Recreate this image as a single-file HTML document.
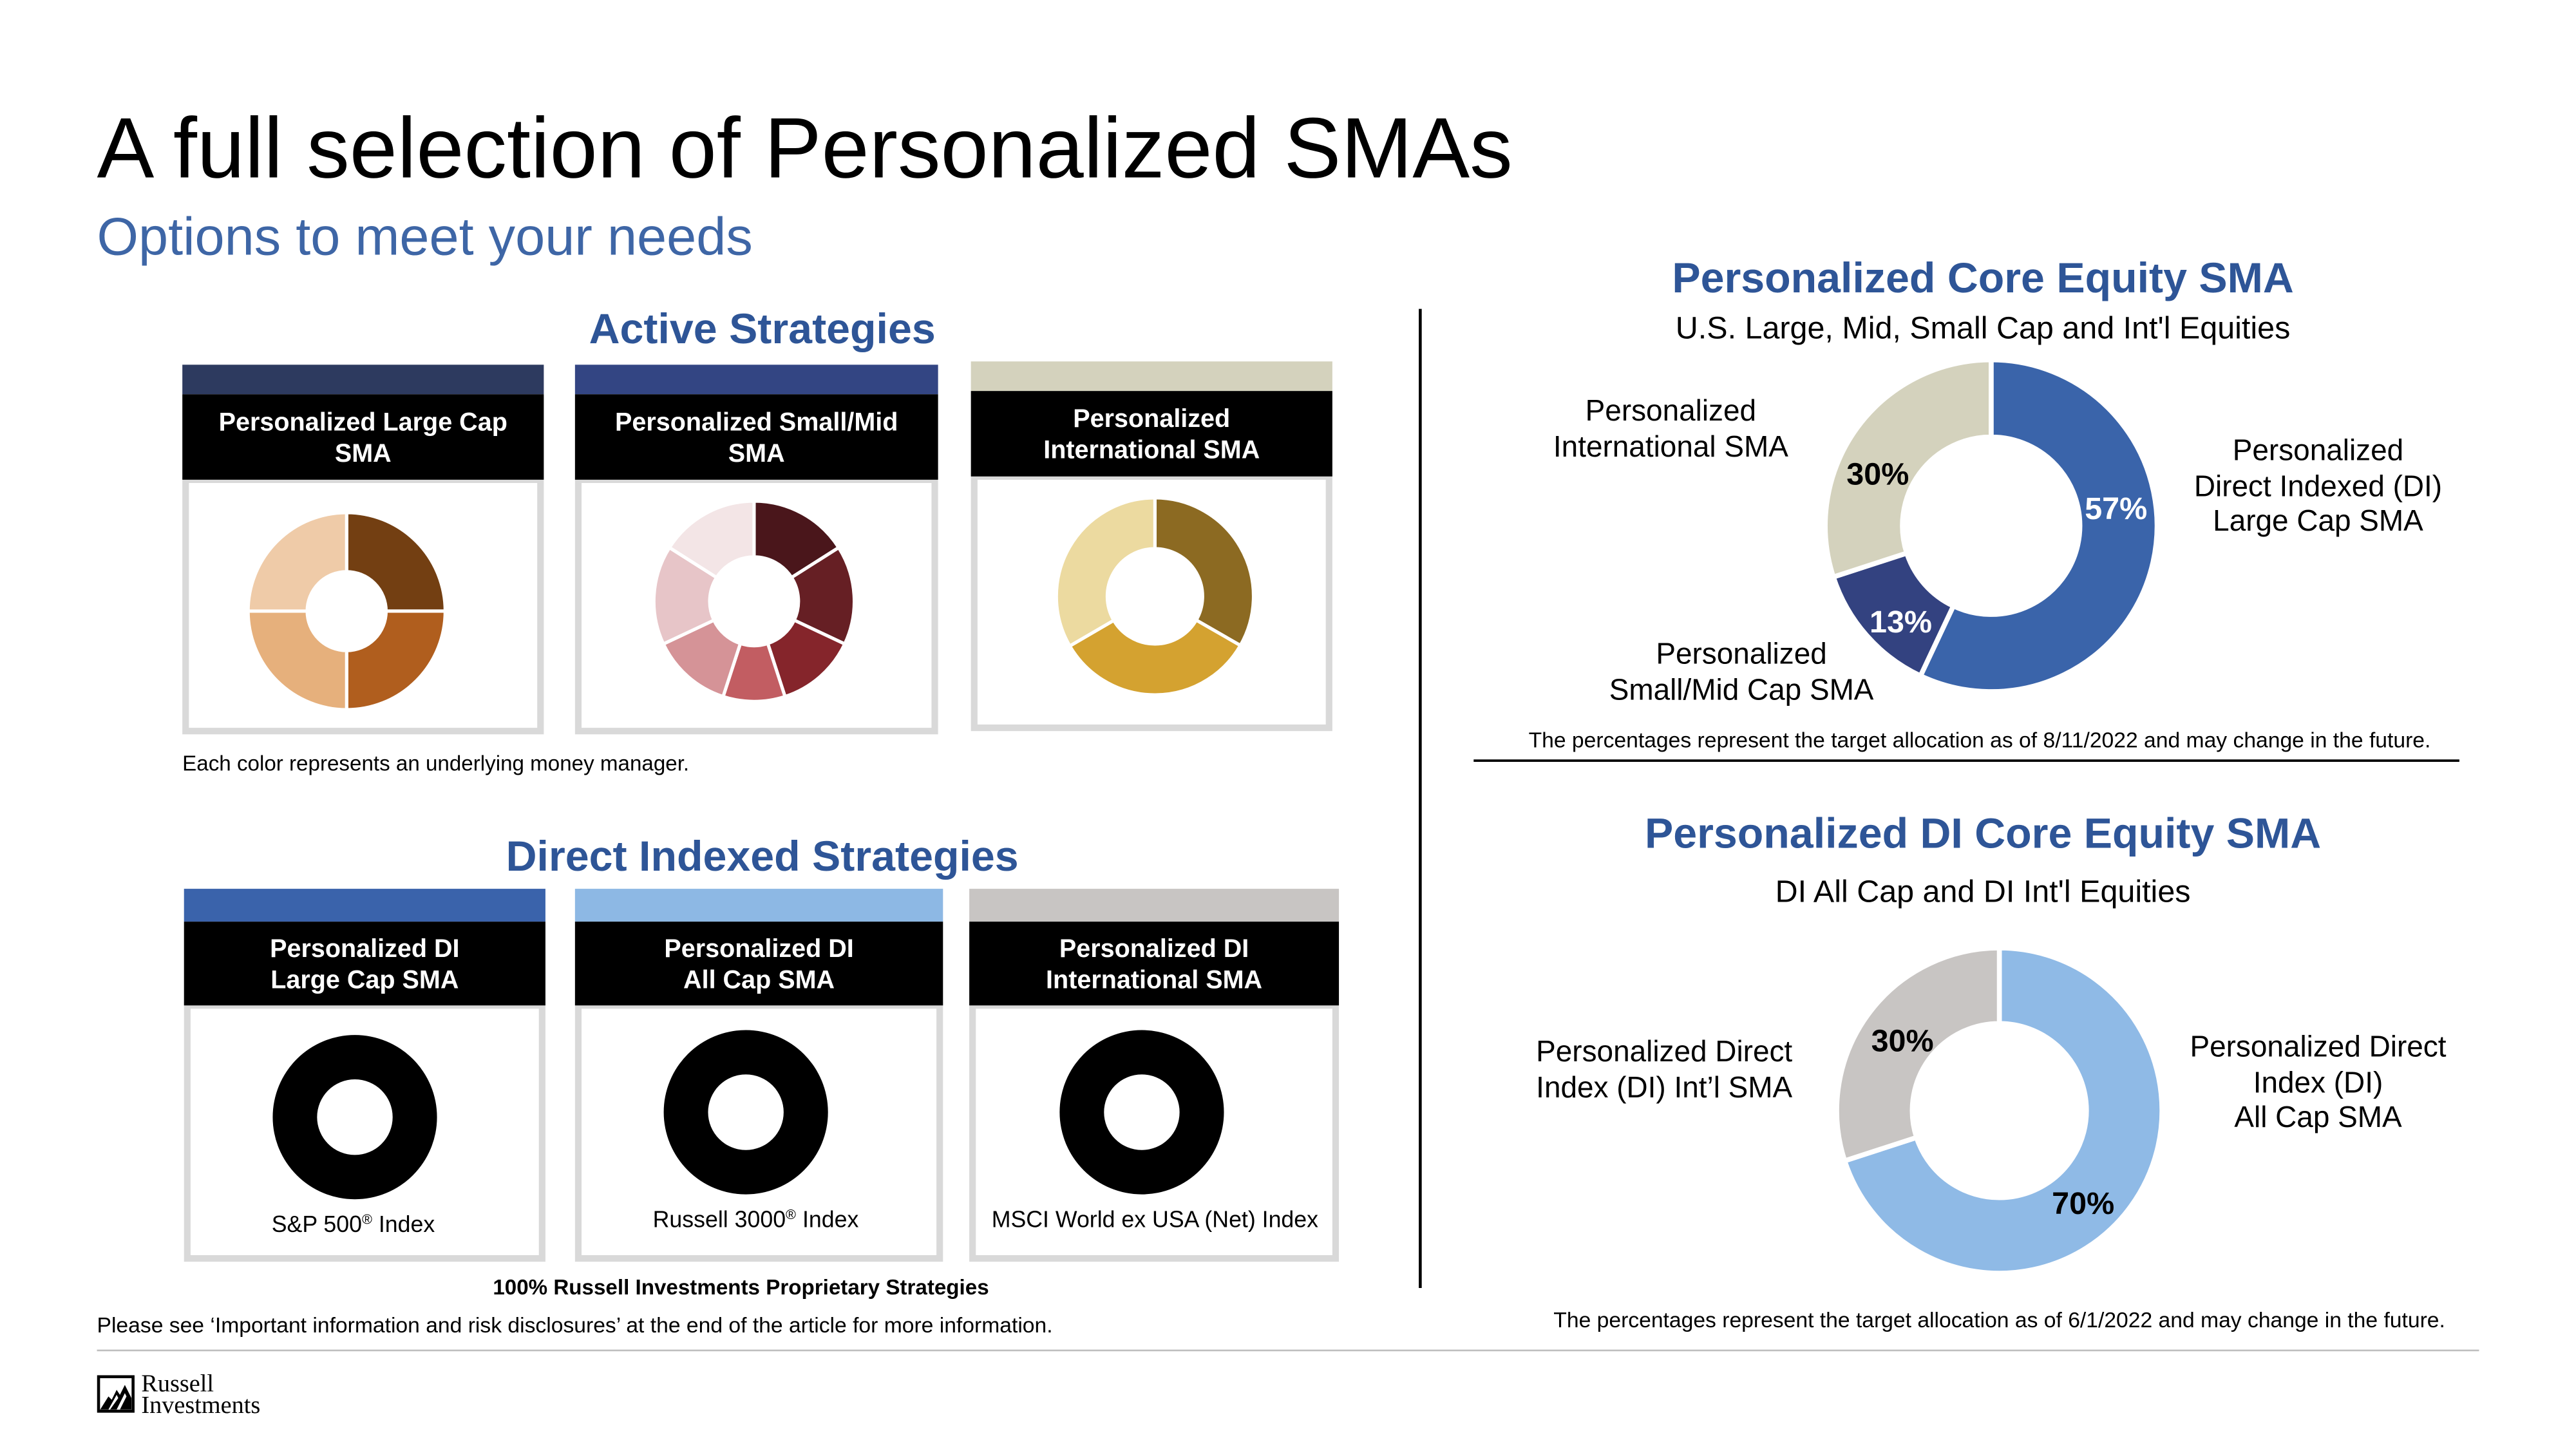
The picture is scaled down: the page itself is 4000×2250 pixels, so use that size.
<!DOCTYPE html>
<html><head><meta charset="utf-8">
<style>
html,body{margin:0;padding:0;background:#fff;}
svg{display:block;font-family:"Liberation Sans",Arial,sans-serif;}
</style></head>
<body>
<svg id="page" width="4000" height="2250" viewBox="0 0 1568 882" xmlns="http://www.w3.org/2000/svg">
<rect width="1568" height="882" fill="#fff"/>
<text x="59" y="108" font-size="52.2" fill="#000">A full selection of Personalized SMAs</text>
<text x="59" y="155" font-size="32.5" fill="#3e66a6">Options to meet your needs</text>

<text x="464" y="209" font-size="26" font-weight="bold" fill="#2e5597" text-anchor="middle">Active Strategies</text>
<g id="activeCards"></g>
<text x="111" y="469" font-size="13" fill="#000">Each color represents an underlying money manager.</text>

<text x="464" y="530" font-size="26" font-weight="bold" fill="#2e5597" text-anchor="middle">Direct Indexed Strategies</text>
<g id="diCards"></g>
<text x="451" y="788" font-size="13" font-weight="bold" fill="#000" text-anchor="middle">100% Russell Investments Proprietary Strategies</text>
<text x="59" y="811" font-size="13.2" fill="#000">Please see ‘Important information and risk disclosures’ at the end of the article for more information.</text>
<line x1="59" y1="822" x2="1509" y2="822" stroke="#bfbfbf" stroke-width="1"/>

<g>
<rect x="60" y="838" width="21" height="21" fill="none" stroke="#000" stroke-width="1.8"/>
<polygon points="61,858 66,850 68,852 71,846 73,849 76,843 80,851 80,858" fill="#000"/>
<polygon points="66,858 71,849 72,851 67,858" fill="#fff"/>
<polygon points="71,858 76,848 77,850 73,858" fill="#fff"/>
<text x="86" y="847" font-family="Liberation Serif,serif" font-size="15" fill="#000">Russell</text>
<text x="86" y="860" font-family="Liberation Serif,serif" font-size="15" fill="#000">Investments</text>
</g>

<line x1="864.5" y1="188" x2="864.5" y2="784" stroke="#000" stroke-width="1.8"/>

<text x="1207" y="178" font-size="26" font-weight="bold" fill="#2e5597" text-anchor="middle">Personalized Core Equity SMA</text>
<text x="1207" y="206" font-size="19" fill="#000" text-anchor="middle">U.S. Large, Mid, Small Cap and Int'l Equities</text>
<g id="coreDonut"></g>
<g font-size="18" fill="#000" text-anchor="middle">
<text x="1017" y="256">Personalized</text>
<text x="1017" y="278">International SMA</text>
<text x="1411" y="280">Personalized</text>
<text x="1411" y="302">Direct Indexed (DI)</text>
<text x="1411" y="323">Large Cap SMA</text>
<text x="1060" y="404">Personalized</text>
<text x="1060" y="426">Small/Mid Cap SMA</text>
</g>
<text x="1205" y="455" font-size="13.2" fill="#000" text-anchor="middle">The percentages represent the target allocation as of 8/11/2022 and may change in the future.</text>
<line x1="897" y1="463" x2="1497" y2="463" stroke="#000" stroke-width="1.5"/>

<text x="1207" y="516" font-size="26" font-weight="bold" fill="#2e5597" text-anchor="middle">Personalized DI Core Equity SMA</text>
<text x="1207" y="549" font-size="19" fill="#000" text-anchor="middle">DI All Cap and DI Int'l Equities</text>
<g id="diDonut"></g>
<g font-size="18" fill="#000" text-anchor="middle">
<text x="1013" y="646">Personalized Direct</text>
<text x="1013" y="668">Index (DI) Int’l SMA</text>
<text x="1411" y="643">Personalized Direct</text>
<text x="1411" y="665">Index (DI)</text>
<text x="1411" y="686">All Cap SMA</text>
</g>
<text x="1217" y="808" font-size="13.2" fill="#000" text-anchor="middle">The percentages represent the target allocation as of 6/1/2022 and may change in the future.</text>
</svg>
<script>
// ---- data ----
const coreCategories = ["Personalized DI Large Cap SMA","Personalized Small/Mid Cap SMA","Personalized International SMA"];
const coreValues = [57, 13, 30];
const coreColors = ["#3a64aa","#334280","#d4d2bd"];
const coreLabelColors = ["#fff","#fff","#000"];

const diCategories = ["Personalized DI All Cap SMA","Personalized DI Int'l SMA"];
const diValues = [70, 30];
const diColors = ["#8fbae6","#c8c5c3"];

const largeCapValues = [25, 25, 25, 25];
const largeCapColors = ["#733f12","#b05e1e","#e6b07c","#efcba8"];
const smallMidValues = [16, 16, 13, 10, 13, 16, 16];
const smallMidColors = ["#4a161b","#661f24","#85252b","#c25d62","#d59397","#e7c5c8","#f3e5e6"];
const intlValues = [33.3, 33.3, 33.4];
const intlColors = ["#8c6a22","#d4a230","#ecdaa0"];
const diIndexValues = [100];

const NS = "http://www.w3.org/2000/svg";
function mk(tag, attrs, parent){
  const e = document.createElementNS(NS, tag);
  for (const k in attrs) e.setAttribute(k, attrs[k]);
  parent.appendChild(e);
  return e;
}
function pt(cx, cy, r, frac){ const a = frac*2*Math.PI; return [cx + r*Math.sin(a), cy - r*Math.cos(a)]; }
function arcPath(cx, cy, R, r, f0, f1){
  if (f1 - f0 >= 0.9999){
    return `M${cx},${cy-R}A${R},${R} 0 1 1 ${cx},${cy+R}A${R},${R} 0 1 1 ${cx},${cy-R}Z ` +
           `M${cx},${cy-r}A${r},${r} 0 1 0 ${cx},${cy+r}A${r},${r} 0 1 0 ${cx},${cy-r}Z`;
  }
  const large = (f1 - f0) > 0.5 ? 1 : 0;
  const [x0,y0] = pt(cx,cy,R,f0), [x1,y1] = pt(cx,cy,R,f1);
  const [x2,y2] = pt(cx,cy,r,f1), [x3,y3] = pt(cx,cy,r,f0);
  return `M${x0},${y0}A${R},${R} 0 ${large} 1 ${x1},${y1}L${x2},${y2}A${r},${r} 0 ${large} 0 ${x3},${y3}Z`;
}
function donut(parent, cx, cy, R, r, values, colors, name, gap){
  const total = values.reduce((a,b)=>a+b,0);
  let acc = 0;
  const mids = [];
  values.forEach((v,i)=>{
    const f0 = acc/total, f1 = (acc+v)/total;
    const p = mk("path", {d: arcPath(cx,cy,R,r,f0,f1), fill: colors[i % colors.length], "fill-rule":"evenodd", stroke: values.length>1 ? "#fff" : "none", "stroke-width": gap}, parent);
    
    
    mids.push((f0+f1)/2);
    acc += v;
  });
  return mids;
}

// ---- cards ----
function card(parent, x, w, bandTop, headTop, headBot, bodyBot, bandColor, lines, name){
  const g = mk("g", {}, parent);
  
  
  mk("rect", {x:x+2, y:headBot, width:w-4, height:bodyBot-headBot-2, fill:"#fff", stroke:"#d9d9d9", "stroke-width":4}, g);
  mk("rect", {x:x, y:bandTop, width:w, height:headTop-bandTop, fill:bandColor}, g);
  mk("rect", {x:x, y:headTop, width:w, height:headBot-headTop, fill:"#000"}, g);
  const mid = (headTop+headBot)/2;
  lines.forEach((t,i)=>{
    const tx = mk("text", {x:x+w/2, y: mid + 5.5 + (i - (lines.length-1)/2)*19, "font-size":15.5, "font-weight":"bold", fill:"#fff", "text-anchor":"middle"}, g);
    tx.textContent = t;
    
    
  });
  return g;
}
const ac = document.getElementById("activeCards");
let g1 = card(ac, 111, 220, 222, 240, 292, 447, "#2d3a5f", ["Personalized Large Cap","SMA"], "large-cap-card");
donut(g1, 211, 372, 60, 24, largeCapValues, largeCapColors, "large-cap", 2);
let g2 = card(ac, 350, 221, 222, 240, 292, 447, "#334583", ["Personalized Small/Mid","SMA"], "small-mid-card");
donut(g2, 459, 366, 61, 27, smallMidValues, smallMidColors, "small-mid", 2);
let g3 = card(ac, 591, 220, 220, 238, 290, 445, "#d4d2bd", ["Personalized","International SMA"], "international-card");
donut(g3, 703, 363, 60, 29, intlValues, intlColors, "international", 2);

const dc = document.getElementById("diCards");
const diCardsDef = [
  {x:112,w:220,band:"#3a63ab",lines:["Personalized DI","Large Cap SMA"],cx:216,cy:680,label:"S&P 500",lx:215,ly:750,name:"di-large-cap-card"},
  {x:350,w:224,band:"#8db8e4",lines:["Personalized DI","All Cap SMA"],cx:454,cy:677,label:"Russell 3000",lx:460,ly:747,name:"di-all-cap-card"},
  {x:590,w:225,band:"#c8c5c3",lines:["Personalized DI","International SMA"],cx:695,cy:677,label:"MSCI World ex USA (Net) Index",lx:703,ly:747,name:"di-international-card"}
];
diCardsDef.forEach(c=>{
  const g = card(dc, c.x, c.w, 541, 561, 612, 768, c.band, c.lines, c.name);
  donut(g, c.cx, c.cy, 50, 23, diIndexValues, ["#000"], c.name + "-donut", 0);
  const t = mk("text", {x:c.lx, y:c.ly, "font-size":14, fill:"#000", "text-anchor":"middle"}, g);
  
  
  t.textContent = c.label;
  if (c.label.indexOf("MSCI")!==0){
    const s = mk("tspan", {"font-size":8.5, dy:-5}, t); s.textContent = "®";
    const s2 = mk("tspan", {dy:5}, t); s2.textContent = " Index";
  }
});

// ---- right donuts ----
const coreLabelOffsets = [[76,-4],[-55,65],[-69,-25]];
const cg = document.getElementById("coreDonut");
donut(cg, 1212, 320, 101, 54, coreValues, coreColors, "core", 3);
coreValues.forEach((v,i)=>{
  const t = mk("text", {x:1212+coreLabelOffsets[i][0], y:320+coreLabelOffsets[i][1], "font-size":19, "font-weight":"bold", fill:coreLabelColors[i], "text-anchor":"middle"}, cg);
  t.textContent = v + "%";
  
  
});
const diLabelOffsets = [[51,63],[-59,-36]];
const dg = document.getElementById("diDonut");
donut(dg, 1217, 676, 99, 53, diValues, diColors, "di-core", 3);
diValues.forEach((v,i)=>{
  const t = mk("text", {x:1217+diLabelOffsets[i][0], y:676+diLabelOffsets[i][1], "font-size":19, "font-weight":"bold", fill:"#000", "text-anchor":"middle"}, dg);
  t.textContent = v + "%";
  
  
});
</script>
</body></html>
